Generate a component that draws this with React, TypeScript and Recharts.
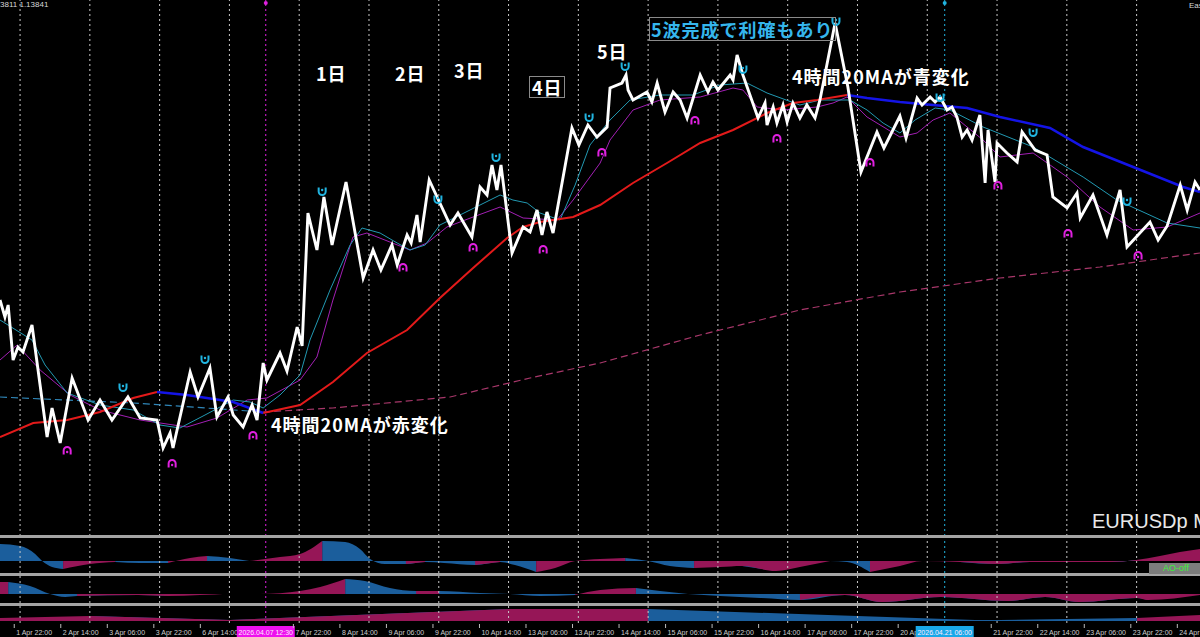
import React from "react";
import { ComposedChart, Line, Area, XAxis, YAxis, ReferenceLine, ReferenceDot } from "recharts";

// time axis: trading hours counted from 2 Apr 00:00 (weekend skipped)
const X_DOMAIN: [number, number] = [-6.9, 405.8];
const dayLines = [0, 24, 48, 72, 96, 120, 144, 168, 192, 216, 240, 264, 288, 312, 336, 360, 384];
const crossPink = 84.5;
const crossCyan = 318;

const axisTicks = [-2, 14, 30, 46, 62, 84.5, 94, 110, 126, 142, 158, 174, 190, 206, 222, 238, 254, 270, 286, 302, 318, 334, 350, 366, 382, 398];
const axisLabels = [
  "1 Apr 22:00", "2 Apr 14:00", "3 Apr 06:00", "3 Apr 22:00", "6 Apr 14:00", "2026.04.07 12:30",
  "7 Apr 22:00", "8 Apr 14:00", "9 Apr 06:00", "9 Apr 22:00", "10 Apr 14:00", "13 Apr 06:00",
  "13 Apr 22:00", "14 Apr 14:00", "15 Apr 06:00", "15 Apr 22:00", "16 Apr 14:00", "17 Apr 06:00",
  "17 Apr 22:00", "20 Apr 14:00", "2026.04.21 06:00", "21 Apr 22:00", "22 Apr 14:00", "23 Apr 06:00",
  "23 Apr 22:00", "24 Apr 14:00",
];
const highlightTicks = [84.5, 318];
const highlightColors = ["#ee10ee", "#19a8e8"];

// zigzag (white)
const zigT = [
  -6.9, -5.2, -4.1, -2.4, -0.7, 1.0, 4.1, 9.3, 11.0, 13.8, 17.9, 23.4, 27.5, 31.6, 37.1, 41.3, 47.1, 49.2, 51.6, 52.6,
  58.5, 61.2, 65.3, 67.7, 71.5, 73.3, 76.7, 79.8, 81.5, 83.6, 84.9, 89.4, 91.8, 95.3, 97.0, 99.0, 102.1, 104.5, 107.3, 112.1,
  118.0, 121.4, 124.1, 127.9, 129.7, 133.1, 134.5, 136.5, 137.6, 140.7, 147.9, 150.6, 155.4, 158.2, 160.6, 162.3, 164.0, 165.4, 169.2, 173.0,
  175.4, 177.8, 179.5, 181.2, 183.3, 189.8, 192.2, 195.3, 198.4, 201.9, 202.9, 207.0, 208.4, 209.1, 210.8, 215.6, 217.3, 219.1, 221.8, 224.6,
  227.0, 229.4, 233.9, 236.6, 238.3, 240.0, 244.2, 245.2, 246.6, 248.6, 253.8, 256.2, 256.9, 259.0, 260.3, 262.4, 263.8, 265.8, 268.2, 270.6,
  273.4, 275.1, 280.3, 284.7, 289.2, 294.7, 297.1, 302.6, 304.7, 308.5, 310.2, 313.0, 314.7, 316.4, 318.8, 320.5, 322.2, 324.0, 325.7, 327.4,
  330.1, 331.9, 332.9, 335.3, 336.0, 339.4, 342.9, 344.6, 349.1, 353.2, 355.2, 360.1, 363.5, 364.6, 369.0, 373.8, 378.3, 380.7, 388.6, 391.4,
  394.5, 399.0, 401.4, 404.1, 405.8,
];
const zigP = [
  1.1500, 1.1483, 1.1495, 1.1440, 1.1453, 1.1448, 1.1475, 1.1363, 1.1392, 1.1357, 1.1422, 1.1380, 1.1400, 1.1380, 1.1403, 1.1382, 1.1380, 1.1352, 1.1367, 1.1352,
  1.1428, 1.1403, 1.1432, 1.1383, 1.1403, 1.1385, 1.1373, 1.1395, 1.1380, 1.1437, 1.1420, 1.1447, 1.1429, 1.1473, 1.1454, 1.1587, 1.1550, 1.1603, 1.1555, 1.1618,
  1.1522, 1.1550, 1.1530, 1.1555, 1.1535, 1.1565, 1.1557, 1.1585, 1.1558, 1.1620, 1.1575, 1.1587, 1.1563, 1.1613, 1.1605, 1.1635, 1.1610, 1.1635, 1.1547, 1.1573,
  1.1568, 1.1590, 1.1565, 1.1588, 1.1567, 1.1672, 1.1655, 1.1675, 1.1663, 1.1673, 1.1712, 1.1717, 1.1725, 1.1710, 1.1700, 1.1708, 1.1698, 1.1717, 1.1688, 1.1708,
  1.1700, 1.1682, 1.1725, 1.1708, 1.1718, 1.1710, 1.1725, 1.1720, 1.1745, 1.1725, 1.1682, 1.1697, 1.1675, 1.1693, 1.1677, 1.1695, 1.1678, 1.1697, 1.1682, 1.1695,
  1.1682, 1.1700, 1.1777, 1.1713, 1.1628, 1.1668, 1.1652, 1.1684, 1.1662, 1.1702, 1.1695, 1.1703, 1.1698, 1.1703, 1.1690, 1.1693, 1.1683, 1.1663, 1.1670, 1.1660,
  1.1685, 1.1617, 1.1670, 1.1618, 1.1657, 1.1647, 1.1638, 1.1668, 1.1650, 1.1645, 1.1603, 1.1592, 1.1607, 1.1582, 1.1605, 1.1565, 1.1610, 1.1553, 1.1578, 1.1560,
  1.1574, 1.1615, 1.1590, 1.1618, 1.1610,
];

// 4h 20MA, colour per segment (r = rising/red, b = falling/blue)
const maT = [-6.9, 4.5, 16.2, 27.5, 38.9, 47.1, 57.4, 73.3, 83.6, 96.3, 107.6, 119.3, 133.1, 144.4, 155.8, 167.5, 173.0, 178.8, 190.2, 199.5,
  210.8, 222.5, 233.9, 245.2, 256.9, 265.8, 274.1, 284.4, 291.3, 302.6, 314.0, 325.7, 337.0, 354.2, 365.6, 382.8, 400.0, 405.8];
const maP = [1.1363, 1.1377, 1.1380, 1.1388, 1.1402, 1.1408, 1.1405, 1.1398, 1.1387, 1.1395, 1.1418, 1.1447, 1.1470, 1.1502, 1.1532, 1.1562, 1.1573, 1.1578, 1.1583, 1.1595,
  1.1617, 1.1637, 1.1657, 1.1670, 1.1687, 1.1697, 1.1700, 1.1705, 1.1702, 1.1698, 1.1695, 1.1692, 1.1683, 1.1672, 1.1653, 1.1633, 1.1613, 1.1608];
const maC = "rrrrrbbbrrrrrrrrrrrrrrrrrrrbbbbbbbbbbb";

// long MA (dashed)
const longT = [-6.9, 38.9, 83.6, 107.6, 147.9, 175.4, 199.5, 233.9, 268.2, 302.6, 337.0, 371.4, 405.8];
const longP = [1.1403, 1.1397, 1.1388, 1.1392, 1.1403, 1.1422, 1.1437, 1.1465, 1.1490, 1.1508, 1.1522, 1.1533, 1.1547];
const longC = "bbrrrrrrrrrrr";

// fast MA (teal)
const tealT = [-6.9, 4.1, 8.6, 16.2, 27.5, 38.9, 48.1, 55.0, 63.6, 73.3, 79.1, 83.6, 89.4, 96.3, 99.7, 106.6, 113.5, 117.6, 123.8, 129.7,
  134.1, 139.3, 144.4, 151.3, 158.2, 165.1, 169.5, 174.4, 178.8, 185.7, 190.9, 196.0, 202.9, 209.8, 220.1, 231.4, 240.7, 250.0, 256.9, 268.2,
  275.1, 285.4, 291.3, 296.8, 302.6, 307.8, 314.7, 319.8, 331.2, 348.4, 365.6, 377.2, 394.5, 405.8];
const tealP = [1.1480, 1.1460, 1.1435, 1.1407, 1.1395, 1.1390, 1.1375, 1.1372, 1.1385, 1.1400, 1.1398, 1.1392, 1.1405, 1.1425, 1.1460, 1.1510, 1.1555, 1.1572, 1.1567, 1.1557,
  1.1550, 1.1555, 1.1575, 1.1585, 1.1595, 1.1605, 1.1600, 1.1597, 1.1587, 1.1580, 1.1615, 1.1655, 1.1680, 1.1700, 1.1705, 1.1705, 1.1715, 1.1717, 1.1707, 1.1695,
  1.1700, 1.1700, 1.1690, 1.1677, 1.1667, 1.1680, 1.1692, 1.1690, 1.1673, 1.1653, 1.1623, 1.1600, 1.1577, 1.1572];

// slower MA (purple)
const purpT = [-6.9, -1.0, 6.9, 17.2, 27.5, 41.3, 57.4, 67.7, 78.1, 84.9, 96.3, 102.1, 107.6, 114.5, 119.3, 127.2, 134.1, 140.0, 146.8, 155.8,
  165.1, 173.0, 184.7, 190.2, 199.5, 202.9, 210.8, 220.1, 233.9, 245.2, 248.6, 253.5, 262.4, 274.1, 279.6, 284.4, 291.3, 302.6, 308.5, 314.0,
  319.8, 331.2, 337.0, 348.4, 360.1, 371.4, 382.8, 394.5, 405.8];
const purpP = [1.1440, 1.1455, 1.1430, 1.1405, 1.1390, 1.1380, 1.1373, 1.1382, 1.1400, 1.1402, 1.1420, 1.1443, 1.1500, 1.1563, 1.1567, 1.1558, 1.1550, 1.1557, 1.1573, 1.1583,
  1.1593, 1.1582, 1.1580, 1.1600, 1.1637, 1.1660, 1.1690, 1.1700, 1.1703, 1.1712, 1.1710, 1.1693, 1.1690, 1.1693, 1.1697, 1.1703, 1.1683, 1.1663, 1.1667, 1.1680,
  1.1687, 1.1660, 1.1643, 1.1647, 1.1623, 1.1593, 1.1570, 1.1573, 1.1587];

// fractals
const upT = [35.4, 63.6, 103.9, 143.7, 163.7, 195.7, 208.1, 248.6, 280.6, 316.4, 348.4, 380.7];
const upP = [1.1412, 1.1440, 1.1608, 1.1600, 1.1642, 1.1682, 1.1733, 1.1730, 1.1778, 1.1702, 1.1667, 1.1598];
const downT = [16.2, 52.3, 80.1, 131.7, 155.8, 179.9, 200.1, 232.1, 260.3, 292.3, 336.3, 360.4, 384.5];
const downP = [1.1350, 1.1337, 1.1365, 1.1533, 1.1553, 1.1551, 1.1648, 1.1680, 1.1662, 1.1638, 1.1615, 1.1567, 1.1545];

// indicator 1 (AO style histogram)
const ind1T = [-6.9, 0, 5.2, 7.6, 11.0, 14.8, 24.1, 32.7, 41.3, 50.9, 58.5, 64.3, 72.2, 78.8, 89.4, 96.3, 103.9, 111.8, 116.9, 120.4,
  125.5, 132.7, 139.3, 145.8, 156.5, 165.1, 170.2, 177.5, 184.0, 190.9, 199.5, 208.1, 216.0, 223.5, 231.8, 240.7, 248.3, 260.0, 268.2, 278.6,
  284.4, 292.3, 302.6, 310.2, 323.3, 336.3, 347.3, 361.1, 374.9, 383.8, 392.0, 398.9, 405.8];
const ind1V = [17, 15, 7, 0, -6, -8, -3, -1, -2, -2, 3, 5, 3, 0, 4, 7, 20, 19, 12, 2,
  -3, -3, -1, -2, -4, -1, -4, -11, -7, 0, 2, 3, 0, -5, -7, -6, -5, -10, -6, 0,
  -1, -11, -5, 0, -1, -3, -1, -1, -1, 1, 5, 9, 12];
const ind1C = "bbbbbrrbbrrbbrrrbbbbbrbbrbbrrrrbbbrrbrrbbrrrbrbrbrrrr";

// indicator 2
const ind2T = [-6.9, -4.1, 3.4, 10.3, 15.5, 19.6, 40.6, 50.9, 61.9, 72.2, 82.5, 96.3, 103.2, 111.8, 118.6, 127.2, 136.2, 144.1, 158.2, 168.5,
  178.8, 190.9, 199.5, 211.8, 220.1, 229.7, 240.7, 254.5, 268.2, 283.7, 296.4, 316.7, 339.8, 352.5, 364.2, 384.1, 387.9, 405.8];
const ind2V = [12, 12, 8, 0, -3, -2, -1, -2, -1, 0, 0, 3, 7, 15, 13, 6, 3, 3, 1, 0,
  -2, -1, 4, 6, 3, 0, -2, -4, -6, -1, -8, -3, -7, -3, -8, -4, -6, -1];
const ind2C = "rbbbbrbrrbrrrbbbrbbbbrrbbbbbrbrbrbrbrr";

// indicator 3
const ind3T = [-6.9, 24.1, 72.2, 168.5, 191.9, 216.0, 328.4, 337.0, 384.1, 405.8];
const ind3V = [3, 5, 1, 12, 12, 12, 1, 1, 3, 6];
const ind3C = "rbrbrbbbrr";

const BLUE_H = "#1b5e9c";
const RED_H = "#961657";
const CYAN = "#21b4e0";
const MAGENTA = "#e020e0";

type Pt = { t: number; p: number | null };

const pairs = (ts: number[], ps: number[]): Pt[] => ts.map((t, i) => ({ t, p: ps[i] }));
const pick = (ts: number[], ps: number[], cs: string, want: string): Pt[] =>
  ts.map((t, i) => ({ t, p: cs[i] === want || (i > 0 && cs[i - 1] === want) ? ps[i] : null }));
const histo = (ts: number[], vs: number[], cs: string) =>
  ts.map((t, i) => ({
    t,
    b: cs[i] === "b" || (i > 0 && cs[i - 1] === "b") ? vs[i] : null,
    r: cs[i] === "r" || (i > 0 && cs[i - 1] === "r") ? vs[i] : null,
  }));

const zigData = pairs(zigT, zigP);
const maRed = pick(maT, maP, maC, "r");
const maBlue = pick(maT, maP, maC, "b");
const longTeal = pick(longT, longP, longC, "b");
const longPink = pick(longT, longP, longC, "r");
const tealData = pairs(tealT, tealP);
const purpData = pairs(purpT, purpP);
const upData = pairs(upT, upP);
const downData = pairs(downT, downP);
const ind1 = histo(ind1T, ind1V, ind1C);
const ind2 = histo(ind2T, ind2V, ind2C);
const ind3 = histo(ind3T, ind3V, ind3C);

const UpMark = (props: any) => {
  const { cx, cy, index } = props;
  if (cx == null || cy == null) return <g key={`u${index}`} />;
  return (
    <g key={`u${index}`}>
      <path d={`M${cx - 3.5},${cy - 4.5} v4 a3.5,3.5 0 0 0 7,0 v-4`} fill="none" stroke={CYAN} strokeWidth={2} />
      <circle cx={cx} cy={cy - 2} r={1.2} fill={CYAN} />
    </g>
  );
};

const DownMark = (props: any) => {
  const { cx, cy, index } = props;
  if (cx == null || cy == null) return <g key={`d${index}`} />;
  return (
    <g key={`d${index}`}>
      <path d={`M${cx - 3.5},${cy + 4.5} v-4 a3.5,3.5 0 0 1 7,0 v4`} fill="none" stroke={MAGENTA} strokeWidth={2} />
      <circle cx={cx} cy={cy + 2} r={1.2} fill={MAGENTA} />
    </g>
  );
};

const tickFont = "'Liberation Sans', Arial, sans-serif";

const AxisTick = (props: any) => {
  const { x, y, payload } = props;
  const v = payload.value;
  const i = axisTicks.indexOf(v);
  const h = highlightTicks.indexOf(v);
  if (h >= 0) {
    return (
      <g>
        <rect x={x - 29} y={y + 3} width={58} height={11} fill={highlightColors[h]} />
        <text x={x} y={y + 11.5} fontSize={7} fill="#ffeaff" textAnchor="middle" fontFamily={tickFont}>
          {axisLabels[i]}
        </text>
      </g>
    );
  }
  return (
    <g>
      <line x1={x} x2={x} y1={y + 1} y2={y + 5} stroke="#bbb" strokeWidth={1} />
      <text x={x + 2} y={y + 11.5} fontSize={7} fill="#cfcfcf" fontFamily={tickFont}>
        {axisLabels[i]}
      </text>
    </g>
  );
};

const gridStroke = "#c8c8c8";

const vLines = (prefix: string) => [
  ...dayLines.map((d) => (
    <ReferenceLine key={`${prefix}g${d}`} x={d} stroke={gridStroke} strokeDasharray="2 3" strokeWidth={1} />
  )),
  <ReferenceLine key={`${prefix}cp`} x={crossPink} stroke={MAGENTA} strokeDasharray="2 3" strokeWidth={1} />,
  <ReferenceLine key={`${prefix}cc`} x={crossCyan} stroke={CYAN} strokeDasharray="2 3" strokeWidth={1} />,
];

const jp: React.CSSProperties = {
  position: "absolute",
  color: "#ffffff",
  fontFamily: "'Noto Sans CJK JP', sans-serif",
  fontSize: 18,
  fontWeight: 700,
  letterSpacing: 1,
  lineHeight: "20px",
  whiteSpace: "nowrap",
};

const sep = (top: number): React.CSSProperties => ({
  position: "absolute",
  left: 0,
  top,
  width: 1200,
  height: 3,
  background: "#a4a4a4",
});

export default function App() {
  return (
    <div style={{ position: "relative", width: 1200, height: 637, background: "#000", overflow: "hidden" }}>
      <style>{`body{margin:0;background:#000}`}</style>

      {/* main price window */}
      <div style={{ position: "absolute", left: 0, top: 0 }}>
        <ComposedChart width={1200} height={536} margin={{ top: 0, right: 0, bottom: 0, left: 0 }}>
          <XAxis dataKey="t" type="number" domain={X_DOMAIN} allowDataOverflow hide />
          <YAxis type="number" domain={[1.1264, 1.18]} allowDataOverflow hide />
          {vLines("m")}
          <ReferenceDot x={crossPink} y={1.1797} r={2} fill={MAGENTA} stroke="none" />
          <ReferenceDot x={crossCyan} y={1.1797} r={2} fill={CYAN} stroke="none" />
          <Line data={longTeal} dataKey="p" stroke="#2f86b8" strokeWidth={1.2} strokeDasharray="7 4" dot={false} activeDot={false} isAnimationActive={false} />
          <Line data={longPink} dataKey="p" stroke="#a8376a" strokeWidth={1.2} strokeDasharray="7 4" dot={false} activeDot={false} isAnimationActive={false} />
          <Line data={purpData} dataKey="p" stroke="#a21fb4" strokeWidth={1} dot={false} activeDot={false} isAnimationActive={false} />
          <Line data={tealData} dataKey="p" stroke="#2299b2" strokeWidth={1} dot={false} activeDot={false} isAnimationActive={false} />
          <Line data={maRed} dataKey="p" stroke="#e31a1a" strokeWidth={2} dot={false} activeDot={false} isAnimationActive={false} />
          <Line data={maBlue} dataKey="p" stroke="#1414e6" strokeWidth={2.5} dot={false} activeDot={false} isAnimationActive={false} />
          <Line data={zigData} dataKey="p" stroke="#ffffff" strokeWidth={2.9} strokeLinejoin="miter" dot={false} activeDot={false} isAnimationActive={false} />
          <Line data={upData} dataKey="p" stroke="none" dot={(p: any) => <UpMark {...p} />} activeDot={false} isAnimationActive={false} />
          <Line data={downData} dataKey="p" stroke="none" dot={(p: any) => <DownMark {...p} />} activeDot={false} isAnimationActive={false} />
        </ComposedChart>
      </div>

      {/* indicator 1 */}
      <div style={{ position: "absolute", left: 0, top: 538 }}>
        <ComposedChart width={1200} height={35} data={ind1} margin={{ top: 0, right: 0, bottom: 0, left: 0 }}>
          <XAxis dataKey="t" type="number" domain={X_DOMAIN} allowDataOverflow hide />
          <YAxis type="number" domain={[-12, 23]} allowDataOverflow hide />
          <Area dataKey="b" type="monotone" stroke="none" fill={BLUE_H} fillOpacity={1} baseValue={0} isAnimationActive={false} />
          <Area dataKey="r" type="monotone" stroke="none" fill={RED_H} fillOpacity={1} baseValue={0} isAnimationActive={false} />
          {vLines("a")}
        </ComposedChart>
      </div>

      {/* indicator 2 */}
      <div style={{ position: "absolute", left: 0, top: 576 }}>
        <ComposedChart width={1200} height={27} data={ind2} margin={{ top: 0, right: 0, bottom: 0, left: 0 }}>
          <XAxis dataKey="t" type="number" domain={X_DOMAIN} allowDataOverflow hide />
          <YAxis type="number" domain={[-9, 18]} allowDataOverflow hide />
          <Area dataKey="b" type="monotone" stroke="none" fill={BLUE_H} fillOpacity={1} baseValue={0} isAnimationActive={false} />
          <Area dataKey="r" type="monotone" stroke="none" fill={RED_H} fillOpacity={1} baseValue={0} isAnimationActive={false} />
          {vLines("b")}
        </ComposedChart>
      </div>

      {/* indicator 3 + time axis */}
      <div style={{ position: "absolute", left: 0, top: 606 }}>
        <ComposedChart width={1200} height={31} data={ind3} margin={{ top: 0, right: 0, bottom: 0, left: 0 }}>
          <XAxis
            dataKey="t"
            type="number"
            domain={X_DOMAIN}
            allowDataOverflow
            ticks={axisTicks}
            interval={0}
            height={14}
            tickSize={0}
            tickMargin={0}
            axisLine={false}
            tickLine={false}
            tick={<AxisTick />}
          />
          <YAxis type="number" domain={[-2, 15]} allowDataOverflow hide />
          <Area dataKey="b" type="linear" stroke="none" fill={BLUE_H} fillOpacity={1} baseValue={0} isAnimationActive={false} />
          <Area dataKey="r" type="linear" stroke="none" fill={RED_H} fillOpacity={1} baseValue={0} isAnimationActive={false} />
          {vLines("c")}
        </ComposedChart>
      </div>

      <div style={sep(535)} />
      <div style={sep(573)} />
      <div style={sep(603)} />

      {/* header texts */}
      <div style={{ position: "absolute", left: 0, top: 0, fontSize: 8, color: "#d8d8d8", fontFamily: "'Liberation Sans', sans-serif" }}>3811 1.13841</div>
      <div style={{ position: "absolute", left: 1189, top: 1, fontSize: 8, color: "#d8d8d8", fontFamily: "'Liberation Sans', sans-serif" }}>Eas</div>

      {/* annotations */}
      <div style={{ ...jp, left: 316, top: 63 }}>1日</div>
      <div style={{ ...jp, left: 395, top: 63 }}>2日</div>
      <div style={{ ...jp, left: 454, top: 60 }}>3日</div>
      <div style={{ ...jp, left: 529, top: 76, border: "1px solid #8a8a8a", padding: "0 1px 0 2px" }}>4日</div>
      <div style={{ ...jp, left: 597, top: 41 }}>5日</div>
      <div style={{ ...jp, left: 649, top: 17, color: "#35b6ec", border: "1px solid #8a8a8a", padding: "1px 1px 1px 1px" }}>5波完成で利確もあり</div>
      <div style={{ ...jp, left: 792, top: 66 }}>4時間20MAが青変化</div>
      <div style={{ ...jp, left: 271, top: 414 }}>4時間20MAが赤変化</div>

      <div style={{ position: "absolute", left: 1092, top: 510, fontSize: 20, color: "#e8e8e8", fontFamily: "'Liberation Sans', sans-serif", whiteSpace: "nowrap" }}>
        EURUSDp M
      </div>
      <div
        style={{
          position: "absolute",
          left: 1149,
          top: 563,
          width: 54,
          height: 11,
          background: "#7c7c7c",
          color: "#3cf03c",
          fontSize: 9,
          lineHeight: "11px",
          textAlign: "center",
          fontFamily: "'Liberation Sans', sans-serif",
        }}
      >
        AO-off
      </div>
    </div>
  );
}
